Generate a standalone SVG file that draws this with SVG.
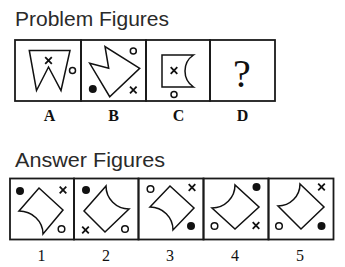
<svg xmlns="http://www.w3.org/2000/svg" width="345" height="267" viewBox="0 0 345 267">
<style>
.box{fill:none;stroke:#1a1a1a;stroke-width:1.8}
.sh{fill:none;stroke:#111;stroke-width:1.5;stroke-linejoin:miter}
.ci{fill:none;stroke:#111;stroke-width:1.5}
.dot{fill:#111}
.xm{stroke:#111;stroke-width:1.8;stroke-linecap:butt}
.title{font-family:"Liberation Sans",Arial,sans-serif;font-size:19.5px;fill:#2a2a2a}
.lab{font-family:"Liberation Serif","Times New Roman",serif;font-size:16px;fill:#111;text-anchor:middle}
.q{font-family:"Liberation Serif","Times New Roman",serif;font-size:40px;fill:#111;text-anchor:middle}
</style>
<defs>
<path id="x" d="M-3.3,-3.3L3.3,3.3M3.3,-3.3L-3.3,3.3" class="xm"/>
</defs>
<rect width="345" height="267" fill="#fff"/>
<text class="title" x="15" y="26" textLength="154" lengthAdjust="spacingAndGlyphs">Problem Figures</text>
<text class="title" x="15" y="167" textLength="150" lengthAdjust="spacingAndGlyphs">Answer Figures</text>

<g id="problemA">
<rect class="box" x="15" y="40" width="66" height="61"/>
<path class="sh" d="M29.3,50.5L36.5,90.5L48.5,67L61,90.5L70,50.5Z"/>
<use href="#x" x="48.5" y="60.5"/>
<circle class="ci" cx="72.5" cy="70.5" r="3"/>
<text class="lab" style="font-weight:bold" x="49.5" y="120.5">A</text>
</g>
<g id="problemB">
<rect class="box" x="81" y="40" width="65" height="61"/>
<path class="sh" d="M89.7,63.3L108.7,68.3L105,46.5L139.7,68.3L109.7,96.7Z"/>
<circle class="ci" cx="133.3" cy="51" r="3"/>
<circle class="dot" cx="92.8" cy="89" r="4"/>
<use href="#x" x="133.3" y="90"/>
<text class="lab" style="font-weight:bold" x="113.5" y="120.5">B</text>
</g>
<g id="problemC">
<rect class="box" x="146" y="40" width="64" height="61"/>
<path class="sh" d="M162,55L193.5,55A19.3 19.3 0 0 0 193.5,87L162,87Z"/>
<use href="#x" x="174" y="70.5"/>
<circle class="ci" cx="174" cy="94.5" r="3"/>
<text class="lab" style="font-weight:bold" x="178.5" y="120.5">C</text>
</g>
<g id="problemD">
<rect class="box" x="210" y="40" width="65" height="61"/>
<text class="q" x="242" y="87">?</text>
<text class="lab" style="font-weight:bold" x="242.5" y="120.5">D</text>
</g>

<g id="answer1">
<rect class="box" x="10" y="178.5" width="64" height="61"/>
<path class="sh" d="M19,211L39,188L63,210L43,234A24 23 0 0 0 19,211Z"/>
<circle class="dot" cx="20" cy="191" r="4"/>
<use href="#x" x="63" y="190"/>
<circle class="ci" cx="61.5" cy="229" r="3.3"/>
<text class="lab" x="41.5" y="260.5">1</text>
</g>
<g id="answer2">
<rect class="box" x="74" y="178.5" width="64.5" height="61"/>
<path class="sh" d="M106,186A23 23 0 0 0 129,209L105,232L84,211Z"/>
<circle class="dot" cx="86" cy="190" r="4"/>
<use href="#x" x="85.5" y="230"/>
<circle class="ci" cx="125" cy="229" r="3.3"/>
<text class="lab" x="106" y="260.5">2</text>
</g>
<g id="answer3">
<rect class="box" x="138.5" y="178.5" width="65" height="61"/>
<path class="sh" d="M150,207L170,186L194,208L173,230A23 23 0 0 0 150,207Z"/>
<circle class="ci" cx="150.5" cy="189" r="3.3"/>
<use href="#x" x="192" y="187.5"/>
<circle class="dot" cx="191" cy="226" r="4"/>
<text class="lab" x="170" y="260.5">3</text>
</g>
<g id="answer4">
<rect class="box" x="203.5" y="178.5" width="65" height="61"/>
<path class="sh" d="M212,208A23 23 0 0 0 235,185L259,207L235,229Z"/>
<circle class="dot" cx="256.5" cy="187" r="4"/>
<circle class="ci" cx="214.5" cy="226" r="3.3"/>
<use href="#x" x="256" y="225.5"/>
<text class="lab" x="235" y="260.5">4</text>
</g>
<g id="answer5">
<rect class="box" x="268.5" y="178.5" width="65" height="61"/>
<path class="sh" d="M278,206A22 22 0 0 0 300,184L324,207L301,229Z"/>
<use href="#x" x="321.5" y="187"/>
<circle class="ci" cx="279" cy="226" r="3.3"/>
<circle class="dot" cx="321.5" cy="226" r="4"/>
<text class="lab" x="300" y="260.5">5</text>
</g>
<g id="connectors"></g>
</svg>
